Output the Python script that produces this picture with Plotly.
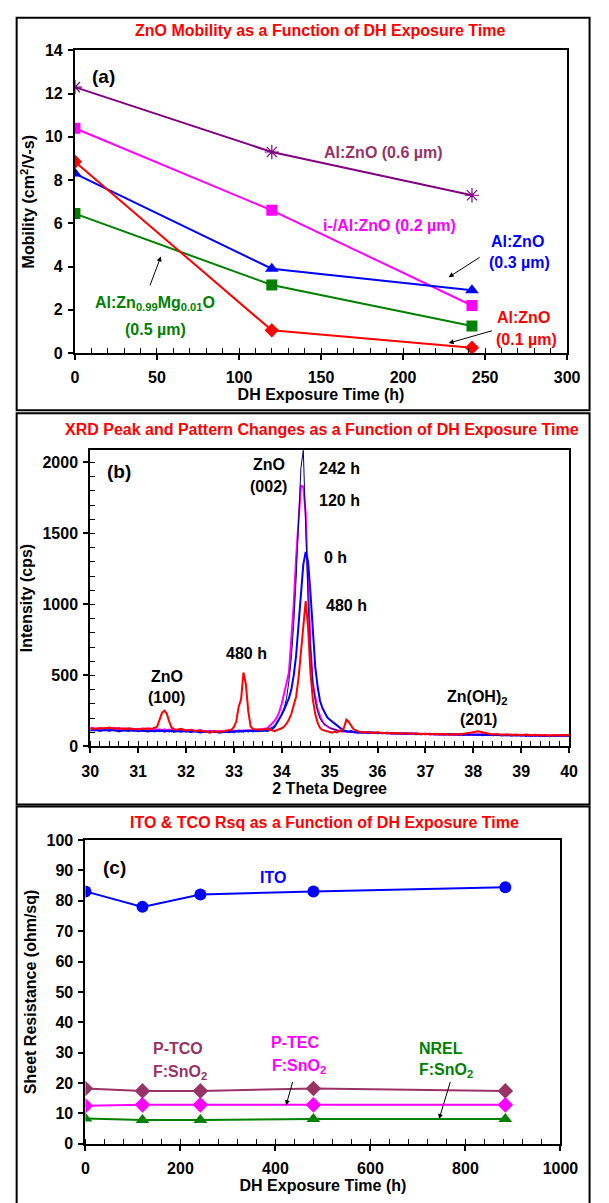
import plotly.graph_objects as go

# ---------------- Panel (a) data ----------------
time_a = [0, 120, 242]
mob_06 = [12.3, 9.3, 7.3]      # Al:ZnO (0.6 um)
mob_02 = [10.4, 6.6, 2.2]      # i-/Al:ZnO (0.2 um)
mob_03 = [8.3, 3.9, 2.9]       # Al:ZnO (0.3 um)
mob_01 = [8.85, 1.05, 0.25]    # Al:ZnO (0.1 um)
mob_mg = [6.45, 3.15, 1.25]    # Al:Zn0.99Mg0.01O (0.5 um)

# ---------------- Panel (b) data ----------------
two_theta = [30.0, 30.1, 30.2, 30.3, 30.4, 30.5, 30.6, 30.7, 30.8, 30.9, 31.0, 31.1, 31.2, 31.3,
             31.35, 31.4, 31.45, 31.5, 31.55, 31.6, 31.65, 31.7, 31.75,
             31.8, 31.9, 32.0, 32.1, 32.2, 32.3, 32.4, 32.5, 32.6, 32.7, 32.8, 32.9,
             32.95, 33.0, 33.05, 33.1, 33.15, 33.2, 33.25, 33.3, 33.35, 33.4, 33.45,
             33.5, 33.6, 33.7,
             33.75, 33.8, 33.85, 33.9, 33.95, 34.0, 34.05, 34.1, 34.15, 34.2, 34.25, 34.3,
             34.35, 34.4, 34.45, 34.5, 34.55, 34.6, 34.65, 34.7, 34.75, 34.8, 34.85, 34.9,
             34.95, 35.0, 35.05, 35.1, 35.15, 35.2, 35.25, 35.3, 35.35, 35.4, 35.45, 35.5,
             35.6, 35.7, 35.8, 35.9, 36.0, 36.1, 36.2, 36.3, 36.4, 36.5,
             36.6, 36.7, 36.8, 36.9, 37.0, 37.1, 37.2, 37.3, 37.4, 37.5,
             37.6, 37.7, 37.8, 37.9, 38.0, 38.1, 38.2, 38.3, 38.4, 38.5,
             38.6, 38.7, 38.8, 38.9, 39.0, 39.1, 39.2, 39.3, 39.4, 39.5,
             39.6, 39.7, 39.8, 39.9, 40.0]

int_120h = [132, 126, 121, 129, 124, 131, 120, 127, 123, 118, 125, 120, 127, 119,
            123, 117, 121, 115, 120, 114, 119, 116, 121,
            113, 118, 110, 115, 108, 113, 105, 110, 103, 109, 104, 111,
            106, 112, 107, 113, 108, 114, 109, 115, 110, 116, 112,
            118, 122, 128,
            145, 160, 180, 205, 245, 300, 380, 450, 520, 760, 1000, 1330,
            1600, 1835, 1830, 1640, 1150, 720, 440, 340, 262, 215, 175, 152,
            140, 130, 124, 118, 113, 110, 106, 103, 107, 101, 104, 99,
            102, 96, 100, 94, 98, 92, 96, 90, 95, 88,
            93, 87, 91, 86, 90, 84, 88, 83, 87, 82,
            86, 81, 85, 80, 86, 82, 87, 81, 85, 79,
            84, 78, 83, 77, 82, 76, 81, 75, 80, 74,
            79, 75, 80, 76, 81]

int_242h = [115, 109, 116, 111, 118, 108, 114, 110, 117, 106, 113, 108, 115, 104,
            111, 107, 114, 103, 110, 105, 112, 102, 109,
            104, 111, 100, 108, 103, 106, 98, 104, 97, 103, 99, 105,
            100, 107, 102, 109, 101, 108, 103, 110, 104, 111, 106,
            113, 108, 118,
            125, 135, 148, 160, 190, 225, 270, 340, 460, 620, 860, 1180,
            1600, 1960, 2085, 1480, 1030, 690, 440, 320, 245, 195, 170, 155,
            142, 133, 125, 118, 112, 108, 104, 110, 102, 106, 100, 104,
            98, 94, 99, 92, 97, 90, 95, 89, 93, 88,
            92, 86, 91, 85, 89, 84, 88, 83, 87, 82,
            86, 81, 85, 80, 84, 80, 83, 78, 82, 77,
            81, 76, 80, 75, 79, 74, 78, 73, 77, 72,
            76, 73, 77, 74, 76]

int_0h = [112, 118, 108, 115, 110, 117, 106, 113, 109, 116, 107, 112, 105, 111,
          106, 113, 108, 114, 104, 110, 106, 112, 103,
          109, 104, 110, 101, 107, 98, 105, 99, 106, 97, 104, 100,
          106, 101, 108, 103, 110, 104, 111, 105, 112, 106, 110,
          107, 112, 109,
          116, 124, 138, 165, 190, 225, 260, 300, 340, 400, 500, 640,
          840, 1080, 1280, 1370, 1300, 1080, 800, 560, 420, 320, 270, 235,
          205, 190, 175, 160, 148, 135, 122, 112, 108, 104, 109, 101,
          97, 101, 95, 99, 93, 97, 91, 95, 89, 93,
          87, 92, 86, 90, 85, 89, 84, 88, 83, 87,
          82, 86, 81, 85, 80, 84, 79, 83, 78, 82,
          77, 81, 76, 80, 75, 79, 74, 78, 73, 77,
          72, 76, 73, 77, 74]

int_480h = [128, 122, 130, 126, 133, 125, 129, 121, 127, 124, 119, 126, 122, 127,
            131, 142, 190, 238, 252, 231, 175, 133, 121,
            118, 124, 113, 117, 109, 112, 104, 99, 106, 101, 108, 112,
            118, 135, 175, 280, 330, 520, 440, 250, 140, 122, 120,
            122, 118, 124,
            117, 112, 108, 115, 121, 128, 140, 160, 190, 228, 290, 350,
            480, 650, 870, 1023, 840, 520, 330, 228, 165, 130, 116, 110,
            106, 100, 96, 104, 99, 108, 112, 132, 188, 172, 148, 121,
            106, 98, 102, 95, 99, 93, 97, 91, 95, 89,
            94, 88, 92, 86, 90, 85, 89, 84, 88, 83,
            87, 84, 89, 92, 100, 106, 98, 90, 84, 87,
            81, 85, 80, 84, 79, 83, 78, 82, 77, 81,
            76, 80, 77, 81, 78]

# ---------------- Panel (c) data ----------------
time_c = [0, 120, 242, 480, 884]
rsq_ito = [83.1, 78.0, 82.1, 83.1, 84.5]
rsq_ptco = [18.2, 17.4, 17.4, 18.2, 17.4]
rsq_ptec = [12.5, 12.8, 12.8, 12.8, 12.8]
rsq_nrel = [8.3, 7.8, 7.8, 8.1, 8.1]

# ---------------- figure ----------------
W, H = 609, 1203
FONT = "Liberation Sans, Arial, sans-serif"
FS = 16
PURPLE_LINE = "#800080"
MAUVE = "#993366"
MAGENTA = "#FF00FF"
BLUE = "#0000FF"
RED = "#FF0000"
GREEN = "#008000"
NAVY = "#000080"


def fx(p):
    return p / W


def fy(p):
    return 1 - p / H


fig = go.Figure()

# panel a
fig.add_trace(go.Scatter(x=time_a, y=mob_06, mode="lines+markers", xaxis="x", yaxis="y",
                         line=dict(color=PURPLE_LINE, width=2),
                         marker=dict(symbol="asterisk-open", size=12, color=PURPLE_LINE,
                                     line=dict(width=1.2, color=PURPLE_LINE))))
fig.add_trace(go.Scatter(x=time_a, y=mob_02, mode="lines+markers", xaxis="x", yaxis="y",
                         line=dict(color=MAGENTA, width=2),
                         marker=dict(symbol="square", size=11, color=MAGENTA)))
fig.add_trace(go.Scatter(x=time_a, y=mob_03, mode="lines+markers", xaxis="x", yaxis="y",
                         line=dict(color=BLUE, width=2),
                         marker=dict(symbol="triangle-up", size=12, color=BLUE)))
fig.add_trace(go.Scatter(x=time_a, y=mob_mg, mode="lines+markers", xaxis="x", yaxis="y",
                         line=dict(color=GREEN, width=2),
                         marker=dict(symbol="square", size=11, color=GREEN)))
fig.add_trace(go.Scatter(x=time_a, y=mob_01, mode="lines+markers", xaxis="x", yaxis="y",
                         line=dict(color=RED, width=2),
                         marker=dict(symbol="diamond", size=11, color=RED)))

# panel b
fig.add_trace(go.Scatter(x=two_theta, y=int_120h, mode="lines", xaxis="x2", yaxis="y2",
                         line=dict(color=MAGENTA, width=2)))
fig.add_trace(go.Scatter(x=two_theta, y=int_242h, mode="lines", xaxis="x2", yaxis="y2",
                         line=dict(color=NAVY, width=1)))
fig.add_trace(go.Scatter(x=two_theta, y=int_0h, mode="lines", xaxis="x2", yaxis="y2",
                         line=dict(color=BLUE, width=2)))
fig.add_trace(go.Scatter(x=two_theta, y=int_480h, mode="lines", xaxis="x2", yaxis="y2",
                         line=dict(color=RED, width=2)))

# panel c
fig.add_trace(go.Scatter(x=time_c, y=rsq_ito, mode="lines+markers", xaxis="x3", yaxis="y3",
                         line=dict(color=BLUE, width=2),
                         marker=dict(symbol="circle", size=12, color=BLUE)))
fig.add_trace(go.Scatter(x=time_c, y=rsq_ptco, mode="lines+markers", xaxis="x3", yaxis="y3",
                         line=dict(color=MAUVE, width=2),
                         marker=dict(symbol="diamond", size=12, color=MAUVE)))
fig.add_trace(go.Scatter(x=time_c, y=rsq_ptec, mode="lines+markers", xaxis="x3", yaxis="y3",
                         line=dict(color=MAGENTA, width=2),
                         marker=dict(symbol="diamond", size=12, color=MAGENTA)))
fig.add_trace(go.Scatter(x=time_c, y=rsq_nrel, mode="lines+markers", xaxis="x3", yaxis="y3",
                         line=dict(color=GREEN, width=2),
                         marker=dict(symbol="triangle-up", size=12, color=GREEN)))

tickfont = dict(family=FONT, size=FS, color="black", weight="bold")
titlefont = dict(family=FONT, size=FS, color="black", weight="bold")


def axis(dom, anchor, rng, dtick, title, minor=None, standoff=8, labstand=0):
    d = dict(domain=dom, anchor=anchor, range=rng, dtick=dtick, tick0=0,
             showline=True, linecolor="black", linewidth=2, mirror=True,
             showgrid=False, zeroline=False, ticks="outside", ticklen=5,
             tickwidth=1.5, tickcolor="black", tickfont=tickfont,
             ticklabelstandoff=labstand,
             title=dict(text=title, font=titlefont, standoff=standoff))
    if minor is not None:
        d["minor"] = dict(dtick=minor, ticks="inside", ticklen=5, tickwidth=1.2,
                          tickcolor="black", showgrid=False)
    return d


layout = dict(
    width=W, height=H, margin=dict(l=0, r=0, t=0, b=0),
    paper_bgcolor="white", plot_bgcolor="white", showlegend=False,
    font=dict(family=FONT, size=FS, color="black", weight="bold"),
    xaxis=axis([fx(69), fx(584)], "y", [0, 300], 50, "DH Exposure Time (h)", minor=10,
               standoff=3, labstand=4),
    yaxis=axis([fy(350), fy(43)], "x", [0, 14], 2, "Mobility (cm<sup>2</sup>/V-s)",
               standoff=6, labstand=2),
    xaxis2=axis([fx(85), fx(586)], "y2", [30, 40], 1, "2 Theta Degree", minor=0.2,
                standoff=3, labstand=4),
    yaxis2=axis([fy(749), fy(448)], "x2", [0, 2090], 500, "Intensity (cps)", minor=100,
                standoff=6, labstand=2),
    xaxis3=axis([fx(80), fx(577)], "y3", [0, 1000], 200, "DH Exposure Time (h)", minor=40,
                standoff=3, labstand=4),
    yaxis3=axis([fy(1152), fy(844)], "x3", [0, 100], 10, "Sheet Resistance (ohm/sq)",
                standoff=6, labstand=2),
)
fig.update_layout(**layout)

# panel borders
for y0, y1 in [(10, 408), (411, 808), (810, 1215)]:
    fig.add_shape(type="rect", xref="paper", yref="paper",
                  x0=fx(8), x1=fx(607.5), y0=fy(y1), y1=fy(y0),
                  line=dict(color="black", width=2), fillcolor="rgba(0,0,0,0)")

ann = []


def txt(text, x, y, xref, yref, color="black", size=FS):
    ann.append(dict(text=text, x=x, y=y, xref=xref, yref=yref, showarrow=False,
                    font=dict(family=FONT, size=size, color=color, weight="bold"),
                    xanchor="center", yanchor="middle"))


def arrow(x0, y0, x1, y1, xref, yref):
    ann.append(dict(text="", x=x1, y=y1, ax=x0, ay=y0, xref=xref, yref=yref,
                    axref=xref, ayref=yref, showarrow=True, arrowhead=2,
                    arrowsize=1, arrowwidth=1, arrowcolor="black"))


# titles
txt("ZnO Mobility as a Function of DH Exposure Time", fx(326), fy(23), "paper", "paper", RED)
txt("XRD Peak and Pattern Changes as a Function of DH Exposure Time", fx(327), fy(428),
    "paper", "paper", RED)
txt("ITO & TCO Rsq as a Function of DH Exposure Time", fx(330), fy(826), "paper", "paper", RED)

# panel a labels
txt("(a)", 17.5, 12.77, "x", "y", size=19)
txt("Al:ZnO (0.6 µm)", 188, 9.3, "x", "y", MAUVE)
txt("i-/Al:ZnO (0.2 µm)", 191.7, 5.88, "x", "y", MAGENTA)
txt("Al:ZnO", 269.7, 5.17, "x", "y", BLUE)
txt("(0.3 µm)", 270.9, 4.20, "x", "y", BLUE)
txt("Al:ZnO", 273.2, 1.64, "x", "y", RED)
txt("(0.1 µm)", 275.5, 0.64, "x", "y", RED)
txt("Al:Zn<sub>0.99</sub>Mg<sub>0.01</sub>O", 48.9, 2.28, "x", "y", GREEN)
txt("(0.5 µm)", 48.9, 1.09, "x", "y", GREEN)
arrow(247.6, 4.47, 227.8, 3.51, "x", "y")
arrow(255.1, 1.05, 227.8, 0.46, "x", "y")
arrow(45.4, 3.06, 52.4, 4.47, "x", "y")

# panel b labels
txt("(b)", 30.6, 1937, "x2", "y2", size=19)
txt("ZnO", 33.73, 1986, "x2", "y2")
txt("(002)", 33.73, 1833, "x2", "y2")
txt("242 h", 35.21, 1958, "x2", "y2")
txt("120 h", 35.21, 1729, "x2", "y2")
txt("0 h", 35.13, 1333, "x2", "y2")
txt("480 h", 35.35, 993, "x2", "y2")
txt("ZnO", 31.6, 493, "x2", "y2")
txt("(100)", 31.6, 347, "x2", "y2")
txt("480 h", 33.27, 653, "x2", "y2")
txt("Zn(OH)<sub>2</sub>", 38.08, 347, "x2", "y2")
txt("(201)", 38.1, 188, "x2", "y2")

# panel c labels
txt("(c)", 62, 90.9, "x3", "y3", size=19)
txt("ITO", 394, 87.7, "x3", "y3", BLUE)
txt("P-TCO", 195, 31.5, "x3", "y3", MAUVE)
txt("F:SnO<sub>2</sub>", 199, 23.4, "x3", "y3", MAUVE)
txt("P-TEC", 441, 33.4, "x3", "y3", MAGENTA)
txt("F:SnO<sub>2</sub>", 449, 25.3, "x3", "y3", MAGENTA)
txt("NREL", 748, 31.5, "x3", "y3", GREEN)
txt("F:SnO<sub>2</sub>", 758.5, 24.0, "x3", "y3", GREEN)
arrow(437, 20.8, 422.5, 12.7, "x3", "y3")
arrow(769, 20.8, 744.5, 8.1, "x3", "y3")

fig.update_layout(annotations=ann)
fig.write_html("out.html",
               post_script="document.body.style.margin='0px';"
                           "document.body.style.padding='0px';"
                           "document.body.style.overflow='hidden';")
